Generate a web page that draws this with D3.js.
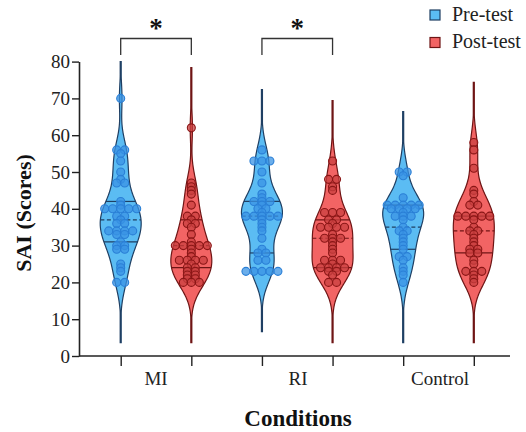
<!DOCTYPE html>
<html>
<head>
<meta charset="utf-8">
<script src="https://cdn.jsdelivr.net/npm/d3@7"></script>
<style>
  body { margin: 0; background: #fff; }
  text { font-family: 'Liberation Serif', 'Times New Roman', serif; }
</style>
</head>
<body>
<div id="chart"></div>
<script>
'use strict'

// Data
const conditions = ['MI', 'RI', 'Control']
const phases = ['Pre-test', 'Post-test']

const miPre = [70, 56, 56, 55, 53, 50, 48, 47, 47, 42, 41, 40, 40, 40, 40, 40, 38, 38, 37, 36, 36,
  34, 34, 34, 34, 33, 33, 31, 30, 30, 29, 29, 25, 24, 23, 20, 20]
const miPost = [62, 47, 46, 45, 44, 41, 38, 38, 37, 36, 36, 35, 33, 31, 30, 30, 30, 30, 30, 29, 28,
  27, 26, 26, 26, 26, 25, 24, 24, 23, 23, 22, 22, 21, 21, 20, 20, 20]
const riPre = [56, 53, 53, 53, 50, 47, 44, 43, 42, 42, 42, 41, 40, 40, 39, 38, 38, 38, 38, 38, 37,
  36, 35, 34, 32, 29, 28, 28, 26, 26, 23, 23, 23, 23, 23]
const riPost = [53, 48, 48, 46, 45, 39, 39, 39, 37, 37, 36, 35, 35, 35, 35, 33, 32, 32, 32, 31, 30,
  29, 28, 26, 26, 26, 25, 24, 24, 24, 24, 23, 23, 22, 20, 20]
const ctrlPre = [50, 50, 49, 43, 41, 41, 41, 41, 41, 40, 40, 40, 40, 39, 38, 38, 38, 37, 35, 34, 34,
  33, 32, 31, 30, 29, 27, 27, 26, 24, 23, 22, 20]
const ctrlPost = [58, 56, 51, 45, 44, 42, 41, 41, 38, 38, 38, 38, 38, 37, 35, 34, 34, 33, 32, 31,
  30, 29, 29, 28, 28, 26, 25, 23, 23, 23, 22, 21, 20]

// quartile lines (Q1, median, Q3) as drawn
const quartiles = [[31, 37, 42], [24, 30, 37], [28, 38, 42], [24, 32, 37], [29, 35, 41], [28, 34, 38]]
const yTicks = [0, 10, 20, 30, 40, 50, 60, 70, 80]
const significant = ['MI', 'RI']

const groups = [
  { condition: 'MI', phase: 'Pre-test', values: miPre },
  { condition: 'MI', phase: 'Post-test', values: miPost },
  { condition: 'RI', phase: 'Pre-test', values: riPre },
  { condition: 'RI', phase: 'Post-test', values: riPost },
  { condition: 'Control', phase: 'Pre-test', values: ctrlPre },
  { condition: 'Control', phase: 'Post-test', values: ctrlPost },
]
groups.forEach((g, i) => { g.key = g.condition + '|' + g.phase; g.q = quartiles[i] })

const colors = {
  'Pre-test': { fill: '#5bbcf3', stroke: '#1f3f63', dot: '#3a93e4', dotStroke: '#2a7fd6' },
  'Post-test': { fill: '#f26464', stroke: '#6e1515', dot: '#c94040', dotStroke: '#8a1616' },
}

const dimensions = { width: 526, height: 432 }

const svg = d3.select('#chart').append('svg')
  .attr('width', dimensions.width)
  .attr('height', dimensions.height)

// Scales
const yScale = d3.scaleLinear().domain([0, 80]).range([356, 61.6])
const xScale = d3.scalePoint().domain(groups.map((g) => g.key)).range([120.7, 473.8])
const condScale = d3.scalePoint().domain(conditions).range([156, 440])

// Kernel density
const bw = 4.2
const gauss = (u) => Math.exp(-0.5 * u * u) / Math.sqrt(2 * Math.PI)
const density = (values, v) => d3.sum(values, (d) => gauss((v - d) / bw)) / (values.length * bw)
const maxHalf = 20.5

groups.forEach((g) => {
  const lo = Math.max(0, d3.min(g.values) - 3.9 * bw)
  const hi = Math.min(80, d3.max(g.values) + 3.9 * bw)
  g.curve = d3.range(lo, hi + 0.01, (hi - lo) / 150).map((v) => [v, density(g.values, v)])
  g.dmax = d3.max(g.curve, (d) => d[1])
})

const plot = svg.append('g')

groups.forEach((g) => {
  const cx = xScale(g.key)
  const c = colors[g.phase]
  const wScale = d3.scaleLinear().domain([0, g.dmax]).range([0, maxHalf])
  const gg = plot.append('g')

  gg.append('path')
    .datum(g.curve)
    .attr('d', d3.area()
      .curve(d3.curveBasis)
      .y((d) => yScale(d[0]))
      .x0((d) => cx - Math.max(0.5, wScale(d[1])))
      .x1((d) => cx + Math.max(0.5, wScale(d[1]))))
    .attr('fill', c.fill)
    .attr('stroke', c.stroke)
    .attr('stroke-width', 1.2)

  // quartile lines
  g.q.forEach((qv, i) => {
    const hw = wScale(density(g.values, qv))
    gg.append('line')
      .attr('x1', cx - hw).attr('x2', cx + hw)
      .attr('y1', yScale(qv)).attr('y2', yScale(qv))
      .attr('stroke', c.stroke)
      .attr('stroke-width', 1.2)
      .attr('stroke-dasharray', i === 1 ? '4,2.5' : null)
  })

  // points: one centred row per value
  const spacing = 8
  const rows = d3.groups(g.values, (d) => d)
  const placed = []
  rows.forEach(([v, arr]) => {
    arr.forEach((d, i) => placed.push({ v, dx: (i - (arr.length - 1) / 2) * spacing }))
  })

  gg.selectAll('circle')
    .data(placed)
    .join('circle')
    .attr('cx', (d) => cx + d.dx)
    .attr('cy', (d) => yScale(d.v))
    .attr('r', 4)
    .attr('fill', c.dot)
    .attr('fill-opacity', 0.75)
    .attr('stroke', c.dotStroke)
    .attr('stroke-width', 1.1)
})

// Y axis
const yAxis = d3.axisLeft(yScale).tickValues(yTicks).tickSize(7).tickSizeOuter(0).tickPadding(2)
const yAxisGroup = svg.append('g')
  .attr('transform', 'translate(79,0)')
  .call(yAxis)
yAxisGroup.select('.domain').attr('stroke', '#222').attr('stroke-width', 1.6)
yAxisGroup.selectAll('.tick line').attr('stroke', '#222').attr('stroke-width', 1.4)
yAxisGroup.selectAll('.tick text')
  .attr('font-size', 19)
  .attr('fill', '#222')

// X axis
svg.append('line')
  .attr('x1', 79).attr('x2', 510)
  .attr('y1', yScale(0)).attr('y2', yScale(0))
  .attr('stroke', '#222').attr('stroke-width', 1.6)

const xAxisGroup = svg.append('g')
  .attr('transform', `translate(0,${yScale(0)})`)
  .call(d3.axisBottom(xScale).tickSize(10).tickFormat(''))
xAxisGroup.select('.domain').remove()
xAxisGroup.selectAll('.tick line').attr('stroke', '#222').attr('stroke-width', 1.4)

svg.append('g')
  .selectAll('text')
  .data(conditions)
  .join('text')
  .attr('x', (d) => condScale(d))
  .attr('y', 385)
  .attr('text-anchor', 'middle')
  .attr('font-size', 19)
  .attr('fill', '#222')
  .text((d) => d)

// Axis titles
svg.append('text')
  .attr('x', 298)
  .attr('y', 426)
  .attr('text-anchor', 'middle')
  .attr('font-size', 23)
  .attr('font-weight', 'bold')
  .attr('fill', '#111')
  .text('Conditions')

svg.append('text')
  .attr('transform', 'translate(31,213) rotate(-90)')
  .attr('text-anchor', 'middle')
  .attr('font-size', 22)
  .attr('font-weight', 'bold')
  .attr('fill', '#111')
  .text('SAI (Scores)')

// Significance brackets
significant.forEach((cond) => {
  const xa = xScale(cond + '|Pre-test')
  const xb = xScale(cond + '|Post-test')
  svg.append('path')
    .attr('d', `M${xa},55V38.5H${xb}V55`)
    .attr('fill', 'none')
    .attr('stroke', '#333')
    .attr('stroke-width', 1.3)
  svg.append('text')
    .attr('x', (xa + xb) / 2)
    .attr('y', 37)
    .attr('text-anchor', 'middle')
    .attr('font-size', 27)
    .attr('font-weight', 'bold')
    .attr('fill', '#111')
    .text('*')
})

// Legend
const legend = svg.append('g')
  .selectAll('g')
  .data(phases)
  .join('g')
  .attr('transform', (d, i) => `translate(430,${10 + i * 27.5})`)
legend.append('rect')
  .attr('width', 10).attr('height', 10)
  .attr('fill', (d) => colors[d].fill)
  .attr('stroke', (d) => colors[d].stroke)
  .attr('stroke-width', 1.2)
legend.append('text')
  .attr('x', 22)
  .attr('y', 10.5)
  .attr('font-size', 20)
  .attr('fill', '#222')
  .text((d) => d)
</script>
</body>
</html>
